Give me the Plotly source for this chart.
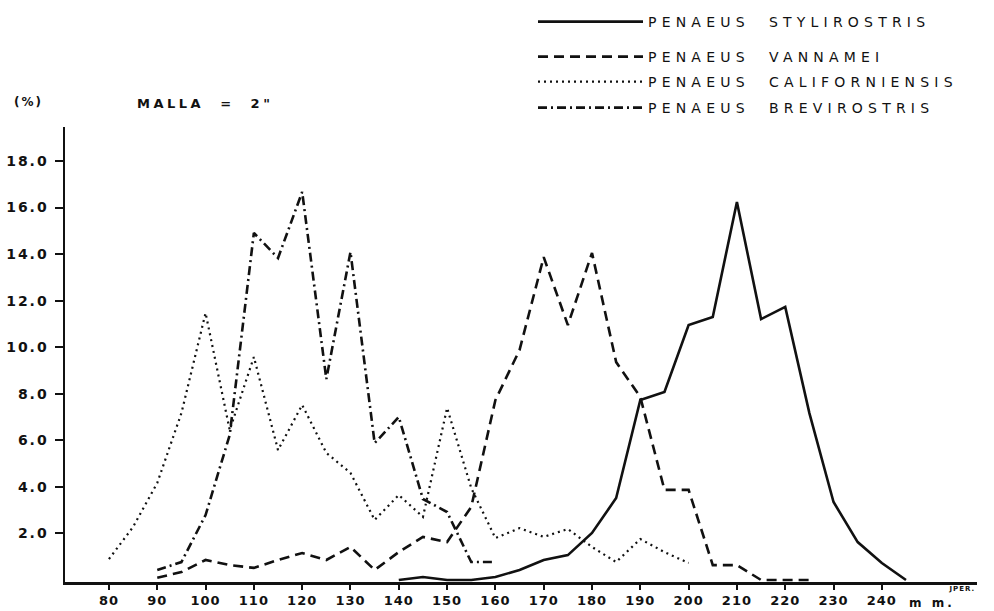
import plotly.graph_objects as go

# ---------------- data ----------------
stylirostris_mm = [140, 145, 150, 155, 160, 165, 170, 175, 180, 185, 190, 195, 200,
                   205, 210, 215, 220, 225, 230, 235, 240, 245]
stylirostris_pct = [0.0, 0.13, 0.0, 0.0, 0.13, 0.43, 0.86, 1.07, 2.02, 3.52, 7.73, 8.08,
                    10.95, 11.30, 16.24, 11.21, 11.73, 7.17, 3.35, 1.63, 0.73, 0.0]

vannamei_mm = [90, 95, 100, 105, 110, 115, 120, 125, 130, 135, 140, 145, 150, 155, 160,
               165, 170, 175, 180, 185, 190, 195, 200, 205, 210, 215, 220, 225]
vannamei_pct = [0.1, 0.34, 0.86, 0.64, 0.52, 0.86, 1.16, 0.86, 1.42, 0.43, 1.20, 1.85,
                1.63, 3.14, 7.73, 9.88, 13.87, 10.95, 14.05, 9.36, 7.86, 3.87, 3.87,
                0.64, 0.64, 0.0, 0.0, 0.0]

californiensis_mm = [80, 85, 90, 95, 100, 105, 110, 115, 120, 125, 130, 135, 140, 145,
                     150, 155, 160, 165, 170, 175, 180, 185, 190, 195, 200]
californiensis_pct = [0.90, 2.28, 4.17, 7.17, 11.47, 6.44, 9.58, 5.58, 7.52, 5.46, 4.60,
                      2.58, 3.65, 2.71, 7.39, 3.95, 1.80, 2.23, 1.85, 2.19, 1.42, 0.77,
                      1.76, 1.20, 0.73]

brevirostris_mm = [90, 95, 100, 105, 110, 115, 120, 125, 130, 135, 140, 145, 150, 155, 160]
brevirostris_pct = [0.43, 0.77, 2.79, 6.23, 14.91, 13.83, 16.67, 8.63, 14.09, 5.88, 7.00,
                    3.48, 2.92, 0.77, 0.77]

series_names = ["PENAEUS  STYLIROSTRIS", "PENAEUS  VANNAMEI",
                "PENAEUS  CALIFORNIENSIS", "PENAEUS  BREVIROSTRIS"]

x_ticks = [80, 90, 100, 110, 120, 130, 140, 150, 160, 170, 180, 190, 200, 210, 220, 230, 240]
y_ticks = [2, 4, 6, 8, 10, 12, 14, 16, 18]

# ---------------- figure ----------------
INK = "#111111"
FONT = "DejaVu Sans"

fig = go.Figure()
fig.add_trace(go.Scatter(x=stylirostris_mm, y=stylirostris_pct, mode="lines",
                         name=series_names[0], legend="legend",
                         line=dict(color=INK, width=2.6, dash="solid")))
fig.add_trace(go.Scatter(x=vannamei_mm, y=vannamei_pct, mode="lines",
                         name=series_names[1], legend="legend2",
                         line=dict(color=INK, width=2.6, dash="10px,6px")))
fig.add_trace(go.Scatter(x=californiensis_mm, y=californiensis_pct, mode="lines",
                         name=series_names[2], legend="legend3",
                         line=dict(color=INK, width=2.2, dash="2px,4px")))
fig.add_trace(go.Scatter(x=brevirostris_mm, y=brevirostris_pct, mode="lines",
                         name=series_names[3], legend="legend4",
                         line=dict(color=INK, width=2.6, dash="9px,4px,2px,4px")))

L, R, T, B = 65, 17, 127, 29
W, H = 994, 611
pw, ph = W - L - R, H - T - B


def px_to_paper_x(px):
    return (px - L) / pw


def px_to_paper_y(py):
    return (H - B - py) / ph


legend_font = dict(family=FONT, size=14, color=INK)


def legend_at(py):
    # container-referenced so the legends do not push the plot margins
    return dict(xref="container", yref="container", x=533 / W, y=(H - py) / H,
                xanchor="left", yanchor="middle", bgcolor="rgba(0,0,0,0)",
                borderwidth=0, font=legend_font, itemwidth=105)


fig.update_layout(
    width=W, height=H,
    margin=dict(l=L, r=R, t=T, b=B, autoexpand=False),
    paper_bgcolor="white", plot_bgcolor="white",
    showlegend=True,
    legend=legend_at(22),
    legend2=legend_at(57),
    legend3=legend_at(82),
    legend4=legend_at(108),
    xaxis=dict(range=[70.9, 259.7], tickvals=x_ticks, ticktext=[str(v) for v in x_ticks],
               showgrid=False, zeroline=False, showline=True, linecolor=INK, linewidth=2.5,
               ticks="outside", ticklen=5, tickwidth=2, tickcolor=INK, automargin=False,
               tickfont=dict(family=FONT, size=13, color=INK, weight="bold")),
    yaxis=dict(range=[-0.086, 19.46], tickvals=y_ticks, tickformat=".1f",
               showgrid=False, zeroline=False, showline=True, linecolor=INK, linewidth=2.5,
               ticks="outside", ticklen=8, tickwidth=2, tickcolor=INK, automargin=False,
               ticklabelstandoff=3,
               tickfont=dict(family=FONT, size=14, color=INK, weight="bold")),
    annotations=[
        dict(text="(%)", xref="paper", yref="paper", x=px_to_paper_x(28), y=px_to_paper_y(102),
             xanchor="center", yanchor="middle", showarrow=False,
             font=dict(family=FONT, size=12, color=INK, weight="bold")),
        dict(text='MALLA  =  2"', xref="paper", yref="paper", x=px_to_paper_x(205),
             y=px_to_paper_y(104), xanchor="center", yanchor="middle", showarrow=False,
             font=dict(family=FONT, size=13, color=INK, weight="bold")),
        dict(text="m m.", xref="paper", yref="paper", x=px_to_paper_x(932), y=px_to_paper_y(603),
             xanchor="center", yanchor="middle", showarrow=False,
             font=dict(family=FONT, size=12, color=INK, weight="bold")),
        dict(text="JPER.", xref="paper", yref="paper", x=px_to_paper_x(962), y=px_to_paper_y(589),
             xanchor="center", yanchor="middle", showarrow=False,
             font=dict(family=FONT, size=7, color=INK, weight="bold")),
    ],
)

# page styling via a stylesheet: no body margin, letter-spaced lettering like the drawing
post_script = """
var rsStyle = document.createElement('style');
rsStyle.textContent = [
  'html, body { margin: 0 !important; padding: 0; overflow: hidden; }',
  '.legendtext, .legend2text, .legend3text, .legend4text { letter-spacing: 5.2px; white-space: pre; }',
  '.scrollbox { clip-path: none !important; }',
  '.ytick text { letter-spacing: 2px; }',
  '.xtick text { letter-spacing: 1px; }',
  '.annotation[data-index="0"] text { letter-spacing: 2px; }',
  '.annotation[data-index="1"] text { letter-spacing: 3.5px; }',
  '.annotation[data-index="2"] text { letter-spacing: 3px; }',
  '.annotation[data-index="3"] text { letter-spacing: 1px; }'
].join('\\n');
document.head.appendChild(rsStyle);
"""

fig.write_html("out.html", post_script=post_script,
               config={"displayModeBar": False, "staticPlot": True})
